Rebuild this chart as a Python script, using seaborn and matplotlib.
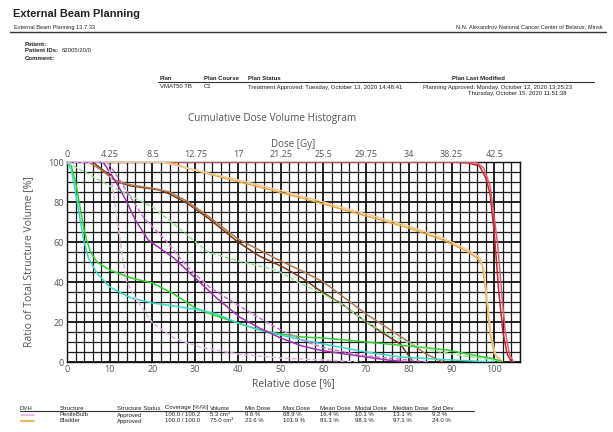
import numpy as np
import pandas as pd
import matplotlib
matplotlib.use("Agg")
import matplotlib.pyplot as plt
import seaborn as sns

# ---- DVH curves: relative dose [%] vs. ratio of structure volume [%] ----
ptv_a_dose = [0, 90, 94, 96.5, 98, 99, 100, 100.5, 101, 102, 103, 104]
ptv_a_vol = [100, 100, 99.5, 98, 92, 84, 64, 50, 36, 15, 4, 0]
ptv_b_dose = [0, 93, 96, 97.5, 99, 100, 100.8, 101.5, 102.5, 103.5, 104.5]
ptv_b_vol = [100, 100, 99.5, 97, 88, 72, 58, 40, 16, 4, 0]

bladder_a_dose = [0, 23.6, 28, 35, 45, 54, 60, 70, 80, 88, 93, 96, 97.2, 98, 98.7, 99.2, 100, 101.9]
bladder_a_vol = [100, 100, 97, 93, 87.5, 82.5, 79, 73, 67, 61, 56, 52, 48, 35, 20, 12, 4, 0]
bladder_b_dose = [0, 22, 27, 35, 45, 54, 60, 70, 80, 88, 93, 96.5, 97.6, 98.3, 99, 99.6, 100.4, 101.5]
bladder_b_vol = [100, 100, 97.5, 93.5, 88.5, 83.5, 80, 74, 68, 62, 57, 52.5, 46, 32, 18, 10, 3, 0]

rectum_a_dose = [0, 6, 9, 11.7, 15, 21.7, 24, 28, 33, 40, 45, 50.5, 55, 59, 65, 70, 75, 78, 80, 81]
rectum_a_vol = [100, 100, 95, 90, 88, 86, 84, 79.5, 72, 60, 53, 47.5, 42, 36, 28, 20, 13, 9, 3, 0]
rectum_b_dose = [0, 5, 8, 11, 15, 21, 24, 28, 33, 40, 45, 50, 55, 60, 65, 70, 75, 80, 84, 88]
rectum_b_vol = [100, 100, 96, 91, 88.5, 86.5, 85, 80.5, 73, 61.5, 56, 50.5, 45.5, 40, 32, 24, 17, 10, 4, 0]

bowel_a_dose = [0, 1, 2, 3, 4, 4.6, 5.5, 7, 10, 15, 20, 25, 30, 35, 40, 45, 50, 55, 60, 70, 80, 89, 95, 100, 102]
bowel_a_vol = [100, 98, 90, 78, 66, 61, 55, 50, 46, 42, 39.5, 34, 27, 23, 19.5, 16, 14, 12.5, 12, 10, 8, 6, 3.5, 1.5, 0]
bowel_b_dose = [0, 1.5, 5, 10, 15, 20, 25, 29.5, 33, 40, 49, 54, 59, 65, 70, 75, 80, 85, 90, 95, 99.6, 101]
bowel_b_vol = [100, 98, 94, 88, 83, 77.5, 69, 61, 55, 50.5, 46, 40, 35, 28, 20, 14, 9.5, 6, 4, 2.5, 1, 0]

femur_dose = [0, 1, 2, 3, 3.9, 5, 7, 10, 15, 20, 25, 31, 35, 40, 45, 50, 55, 60, 70, 78, 90, 100]
femur_vol = [100, 96, 85, 72, 61, 52, 44.5, 37.5, 32, 29.5, 28, 26, 24, 19.5, 16, 13.5, 11, 9, 5, 2.5, 1, 0]

sigmoid_a_dose = [0, 8.4, 10, 12, 14, 16, 19, 25, 30, 35, 40.4, 45, 50, 55, 59, 65, 70, 75, 80]
sigmoid_a_vol = [100, 100, 95, 88, 80, 71, 61, 52, 42, 32, 22.5, 17, 12, 8, 6, 4, 2.5, 1, 0]
sigmoid_b_dose = [0, 9.5, 12, 15, 18, 23, 28, 33, 38, 45, 50, 55, 60, 70, 80, 85]
sigmoid_b_vol = [100, 100, 92, 82, 72, 61, 48, 38, 31, 22, 16, 11, 7, 3, 1, 0]

penile_dose = [0, 9.6, 10.5, 11.5, 12.5, 13, 14, 16, 20, 25, 31, 40, 50, 60, 68.9]
penile_vol = [100, 100, 90, 75, 60, 52, 40, 32, 19.5, 12, 7.5, 4, 2, 1, 0]

curve_names = ["PTV", "PTV 2", "Bladder", "Bladder 2", "Rectum", "Rectum 2",
               "Bowel", "Bowel 2", "Femur", "Sigmoid", "Sigmoid 2", "PenileBulb"]
curve_doses = [ptv_a_dose, ptv_b_dose, bladder_a_dose, bladder_b_dose, rectum_a_dose,
               rectum_b_dose, bowel_a_dose, bowel_b_dose, femur_dose, sigmoid_a_dose,
               sigmoid_b_dose, penile_dose]
curve_vols = [ptv_a_vol, ptv_b_vol, bladder_a_vol, bladder_b_vol, rectum_a_vol,
              rectum_b_vol, bowel_a_vol, bowel_b_vol, femur_vol, sigmoid_a_vol,
              sigmoid_b_vol, penile_vol]
curve_colors = ["#c0282e", "#d8606a", "#e8a848", "#f0cc98", "#7a3a1e", "#b07a50",
                "#30d030", "#90e890", "#38d8c8", "#a030b0", "#d070d0", "#e8b0e8"]
curve_dashes = ["", "", "", "", "", "", "", (3, 1.5), "", "", (3, 1.5), (3, 1.5)]

# Dose axis ticks (prescription 42.5 Gy = 100 %)
gy_ticks = [0, 4.25, 8.5, 12.75, 17, 21.25, 25.5, 29.75, 34, 38.25, 42.5]
gy_labels = ["0", "4.25", "8.5", "12.75", "17", "21.25", "25.5", "29.75", "34", "38.25", "42.5"]
prescription_gy = 42.5

# Structure statistics table
table_header = ["DVH", "Structure", "Structure Status", "Coverage [%/%]", "Volume", "Min Dose",
                "Max Dose", "Mean Dose", "Modal Dose", "Median Dose", "Std Dev"]
penile_row = ["PenileBulb", "Approved", "100.0 / 100.2", "5.3 cm³", "9.6 %", "68.9 %",
              "16.4 %", "10.1 %", "13.1 %", "9.2 %"]
bladder_row = ["Bladder", "Approved", "100.0 / 100.0", "75.0 cm³", "23.6 %", "101.9 %",
               "81.3 %", "98.3 %", "97.1 %", "24.0 %"]

# ---- build long-form data ----
frames = []
for name, d, v in zip(curve_names, curve_doses, curve_vols):
    frames.append(pd.DataFrame({"curve": name, "dose": d, "volume": v}))
df = pd.concat(frames, ignore_index=True)

sns.set_style("white")
plt.rcParams["font.family"] = ["Liberation Sans", "DejaVu Sans"]

W, H = 613, 432
fig = plt.figure(figsize=(W / 100, H / 100), dpi=100)
fig.patch.set_facecolor("white")


def fx(x):
    return x / W


def fy(y):
    return 1 - y / H


rep = dict(family=["Liberation Sans", "DejaVu Sans"], color="#222222")
small = 4.3

# ---- report header ----
fig.text(fx(13), fy(14), "External Beam Planning", fontsize=7.9, fontweight="bold",
         va="center", ha="left", **rep)
fig.text(fx(14), fy(27), "External Beam Planning 13.7.33", fontsize=4.1, va="center", **rep)
fig.text(fx(603), fy(27), "N.N. Alexandrov National Cancer Center of Belarus, Minsk",
         fontsize=4.1, va="center", ha="right", **rep)
fig.add_artist(plt.Line2D([fx(10), fx(606)], [fy(32), fy(32)], color="#333333", lw=1.0))

fig.text(fx(25), fy(44), "Patient:", fontsize=small, fontweight="bold", va="center", **rep)
fig.text(fx(25), fy(51), "Patient IDs:", fontsize=small, fontweight="bold", va="center", **rep)
fig.text(fx(62), fy(51), "62005/20/0", fontsize=small, va="center", **rep)
fig.text(fx(25), fy(58), "Comment:", fontsize=small, fontweight="bold", va="center", **rep)

fig.text(fx(160), fy(78), "Plan", fontsize=small, fontweight="bold", va="center", **rep)
fig.text(fx(204), fy(78), "Plan Course", fontsize=small, fontweight="bold", va="center", **rep)
fig.text(fx(248), fy(78), "Plan Status", fontsize=small, fontweight="bold", va="center", **rep)
fig.text(fx(478), fy(78), "Plan Last Modified", fontsize=small, fontweight="bold",
         va="center", ha="center", **rep)
fig.add_artist(plt.Line2D([fx(158), fx(594)], [fy(82), fy(82)], color="#333333", lw=0.8))
fig.text(fx(160), fy(87), "VMAT50 TB", fontsize=small, va="center", **rep)
fig.text(fx(204), fy(87), "C1", fontsize=small, va="center", **rep)
fig.text(fx(248), fy(87), "Treatment Approved: Tuesday, October 13, 2020 14:48:41",
         fontsize=small, va="center", **rep)
fig.text(fx(423), fy(87), "Planning Approved: Monday, October 12, 2020 13:25:23",
         fontsize=small, va="center", **rep)
fig.text(fx(468), fy(93), "Thursday, October 15, 2020 11:51:38",
         fontsize=small, va="center", **rep)

# ---- DVH chart ----
chart_font = ["Open Sans", "DejaVu Sans"]
gray = "#555555"
ax = fig.add_axes([fx(67), fy(362), fx(520) - fx(67), fy(162) - fy(362)])
sns.lineplot(data=df, x="dose", y="volume", hue="curve", style="curve",
             hue_order=curve_names, style_order=curve_names,
             palette=dict(zip(curve_names, curve_colors)),
             dashes=dict(zip(curve_names, curve_dashes)),
             sort=False, estimator=None, units="curve", legend=False,
             linewidth=1.1, ax=ax, zorder=3)

ax.set_xlim(0, 106)
ax.set_ylim(0, 100)
ax.set_xticks(np.arange(0, 101, 10))
ax.set_xticks(np.arange(0, 107, 2), minor=True)
ax.set_yticks(np.arange(0, 101, 20))
ax.set_yticks(np.arange(0, 101, 5), minor=True)
ax.set_axisbelow(True)
ax.grid(True, which="major", color="#111111", lw=1.3)
ax.grid(True, which="minor", color="#1c1c1c", lw=0.9)
ax.tick_params(which="both", length=0, labelsize=6.5, labelcolor=gray, pad=2)
for lab in ax.get_xticklabels() + ax.get_yticklabels():
    lab.set_family(chart_font)
for s in ax.spines.values():
    s.set_color("#111111")
    s.set_linewidth(1.0)
ax.set_xlabel("Relative dose [%]", fontsize=7.5, color=gray, family=chart_font, labelpad=3)
ax.set_ylabel("Ratio of Total Structure Volume [%]", fontsize=7.5, color=gray,
              family=chart_font, labelpad=10)

top = ax.secondary_xaxis("top", functions=(lambda x: x * prescription_gy / 100,
                                           lambda g: g * 100 / prescription_gy))
top.set_xticks(gy_ticks)
top.set_xticklabels(gy_labels)
top.tick_params(length=0, labelsize=6.5, labelcolor=gray, pad=2)
for lab in top.get_xticklabels():
    lab.set_family(chart_font)
top.set_xlabel("Dose [Gy]", fontsize=7, color=gray, family=chart_font, labelpad=2)
top.spines["top"].set_visible(False)

fig.text(fx(272), fy(118), "Cumulative Dose Volume Histogram", fontsize=7.2, color=gray,
         family=chart_font, ha="center", va="center")

# ---- structure table ----
col_x = [20, 60, 117, 165, 210, 245, 283, 320, 355, 393, 432]
for x, h in zip(col_x, table_header):
    fig.text(fx(x), fy(408), h, fontsize=small, va="center", **rep)
fig.add_artist(plt.Line2D([fx(20), fx(474)], [fy(411), fy(411)], color="#333333", lw=0.8))
for y, row, c in [(415, penile_row, curve_colors[-1]), (421, bladder_row, curve_colors[2])]:
    fig.add_artist(plt.Line2D([fx(21), fx(34)], [fy(y), fy(y)], color=c, lw=1.2))
    for x, t in zip(col_x[1:], row):
        fig.text(fx(x), fy(y), t, fontsize=small, va="center", **rep)

fig.savefig("out.png", dpi=100, facecolor="white")
